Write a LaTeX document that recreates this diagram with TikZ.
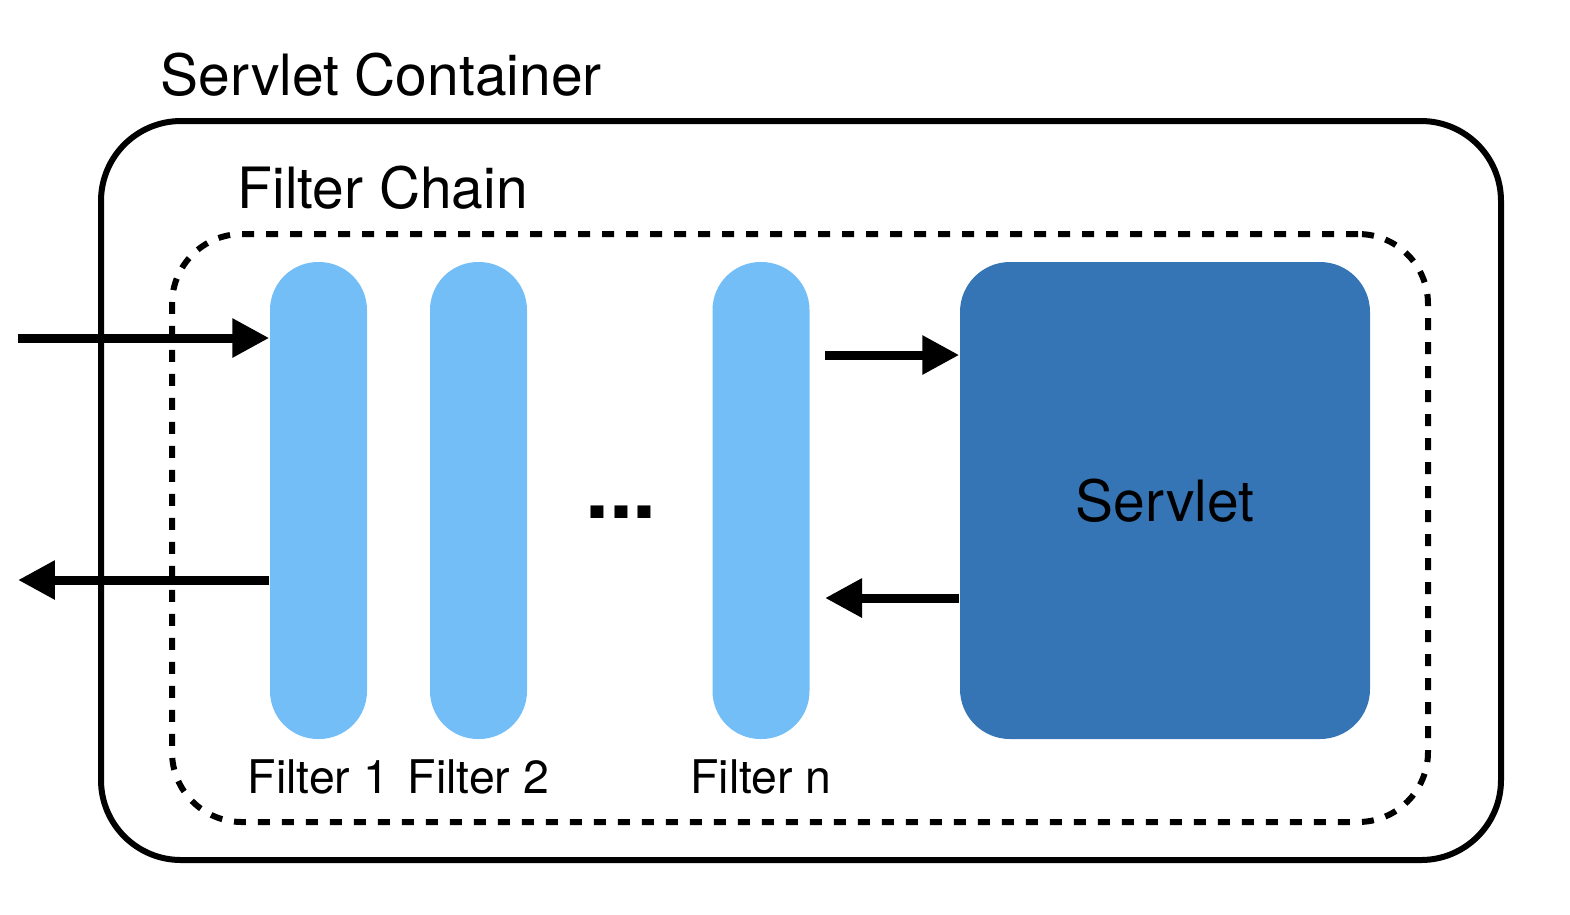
\documentclass[tikz,border=0pt]{standalone}
\usepackage{fontspec}
\setmainfont{TeX Gyre Heros}
\usetikzlibrary{arrows.meta}
\definecolor{filterblue}{HTML}{74BEF8}
\definecolor{servletblue}{HTML}{3574B5}
\tikzset{
    filter/.style={rectangle, rounded corners=0.48cm, fill=filterblue, minimum width=0.97cm, minimum height=4.77cm, inner sep=0pt},
    servlet/.style={rectangle, rounded corners=0.5cm, fill=servletblue, minimum width=4.10cm, minimum height=4.77cm, inner sep=0pt, font=\fontsize{16.2}{19}\selectfont},
    title/.style={anchor=base west, inner sep=0pt, font=\fontsize{16.2}{19}\selectfont},
    flabel/.style={anchor=base, inner sep=0pt, font=\fontsize{13.2}{16}\selectfont},
    flow/.style={line width=0.09cm, -{Triangle[length=0.37cm, width=0.37cm]}},
}
\begin{document}
\begin{tikzpicture}
        \useasboundingbox (0,0) rectangle (15.70,-9.14);

        % Frames
        \node (container) [draw, line width=0.06cm, rounded corners=0.8cm, minimum width=14.00cm, minimum height=7.39cm] at (8.01,-4.905) {};
        \node (chain) [draw, line width=0.06cm, dash pattern=on 0.12cm off 0.12cm, rounded corners=0.7cm, minimum width=12.56cm, minimum height=5.88cm] at (8.00,-5.28) {};
        \node (containertitle) [title] at (1.60,-0.95) {Servlet Container};
        \node (chaintitle) [title] at (2.37,-2.08) {Filter Chain};

        % Nodes
        \node (f1) [filter] at (3.185,-5.005) {};
        \node (f2) [filter] at (4.785,-5.005) {};
        \node (fn) [filter] at (7.61,-5.005) {};
        \node (servlet) [servlet] at (11.65,-5.005) {Servlet};
        \node (dots) [inner sep=0pt, font=\bfseries\fontsize{24.5}{28}\selectfont] at (6.21,-5.12) {...};

        % Labels
        \node (f1label) [flabel] at (3.185,-7.93) {Filter 1};
        \node (f2label) [flabel] at (4.785,-7.93) {Filter 2};
        \node (fnlabel) [flabel] at (7.61,-7.93) {Filter n};

        % Edges
        \coordinate (request) at (0.18,-3.38);
        \coordinate (response) at (0.18,-5.80);
        \coordinate (forward) at (8.25,-3.55);
        \coordinate (back) at (8.25,-5.98);
        \draw[flow] (request) -- (request -| f1.west);
        \draw[flow] (response -| f1.west) -- (response);
        \draw[flow] (forward) -- (forward -| servlet.west);
        \draw[flow] (back -| servlet.west) -- (back);
    \end{tikzpicture}
\end{document}
